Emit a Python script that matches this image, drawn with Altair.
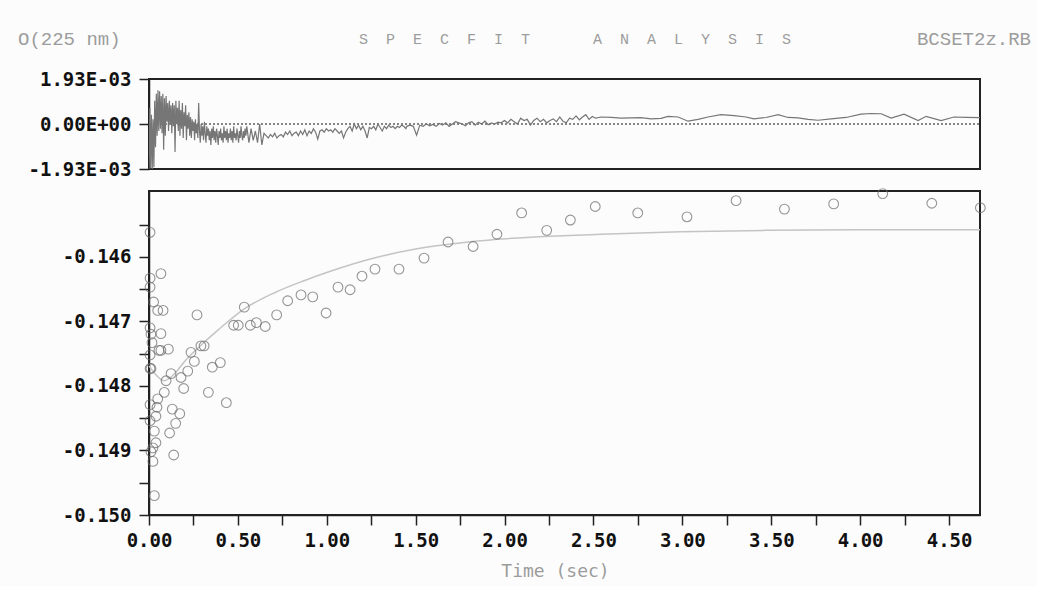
import altair as alt
import numpy as np
import pandas as pd

# Observed absorbance at 225 nm versus time (s)
obs_t = [0.006, 0.006, 0.006, 0.067, 0.026, 0.049, 0.079, 0.270, 0.006, 0.011,
         0.067, 0.017, 0.056, 0.067, 0.109, 0.006, 0.006, 0.011, 0.124, 0.096,
         0.180, 0.218, 0.236, 0.255, 0.292, 0.310, 0.195, 0.086, 0.049, 0.006,
         0.045, 0.039, 0.006, 0.131, 0.173, 0.150, 0.116, 0.030, 0.039, 0.022,
         0.011, 0.022, 0.139, 0.030, 0.334, 0.435, 0.356, 0.401, 0.536, 0.476,
         0.502, 0.570, 0.604, 0.654, 0.718, 0.780, 0.855, 0.921, 0.996, 1.063,
         1.131, 1.198, 1.271, 1.406, 1.547, 1.682, 1.823, 1.957, 2.096, 2.237,
         2.370, 2.510, 2.749, 3.026, 3.302, 3.574, 3.851, 4.127, 4.403, 4.676]
obs_v = [-0.14562, -0.14633, -0.14647, -0.14626, -0.14670, -0.14683, -0.14683, -0.14690, -0.14710, -0.14720,
         -0.14719, -0.14733, -0.14745, -0.14745, -0.14743, -0.14752, -0.14773, -0.14773, -0.14781, -0.14792,
         -0.14787, -0.14777, -0.14748, -0.14762, -0.14738, -0.14738, -0.14804, -0.14810, -0.14820, -0.14829,
         -0.14833, -0.14847, -0.14854, -0.14836, -0.14843, -0.14858, -0.14873, -0.14870, -0.14888, -0.14896,
         -0.14902, -0.14917, -0.14907, -0.14970, -0.14810, -0.14826, -0.14771, -0.14764, -0.14678, -0.14706,
         -0.14706, -0.14706, -0.14702, -0.14708, -0.14690, -0.14668, -0.14659, -0.14662, -0.14687, -0.14647,
         -0.14651, -0.14630, -0.14619, -0.14619, -0.14602, -0.14577, -0.14584, -0.14565, -0.14532, -0.14559,
         -0.14543, -0.14522, -0.14532, -0.14538, -0.14513, -0.14526, -0.14518, -0.14502, -0.14517, -0.14524]

# Fitted kinetic curve
fit_t = [0.0, 0.04, 0.084, 0.12, 0.16, 0.20, 0.25, 0.30, 0.386, 0.534, 0.703,
         0.872, 1.024, 1.25, 1.50, 1.87, 2.54, 2.99, 3.47, 4.0, 4.674]
fit_v = [-0.14769, -0.14783, -0.14792, -0.14787, -0.14776, -0.14762, -0.14748,
         -0.14735, -0.14714, -0.14681, -0.14656, -0.14637, -0.14622, -0.14603,
         -0.14588, -0.14575, -0.14565, -0.14561, -0.14559, -0.14558, -0.14558]

# Residuals (units of 1E-03), evenly sampled in three stretches plus a sparse tail
res_early = [-1.93, 0.7, -1.9, 0.4, -1.93,
             0.2, -1.85, 1.0, -1.0, 1.3,
             -0.5, 1.45, -0.3, 1.4, -0.2,
             1.2, -0.4, 1.3, -1.1, 1.1,
             -0.5, 1.2, 0.1, 0.9, -0.3,
             1.0, 0.0, 0.8, -0.4, 0.9,
             -0.1, 0.8, -1.2, 1.0, 0.0,
             0.7, -0.3, 1.0, -0.5, 0.6,
             -0.2, 0.9, -0.6, 0.5, -0.1,
             0.8, -0.7, 0.4, -0.2, 0.5,
             -0.5, 0.3, -0.6, 0.2, -0.3,
             0.1, -0.7, 0.2, -0.4, 0.0,
             -0.6, 0.9, -0.3, -0.8, 0.0,
             -0.5, -0.1, -0.7, 0.1, -0.4,
             -0.8, -0.1, -0.5, -0.2, -0.7,
             -0.3, -0.9, -0.2, -0.6, -0.1,
             -0.7, -0.3, -0.8, -0.2, -0.5,
             -0.9, -0.3, -0.6, -0.2, -0.7,
             -0.4, -0.8, -0.1, -0.6, -0.3,
             -0.7, -0.2, -0.8, -0.4, -0.6,
             -0.2, -0.7, -0.3, -0.8, -0.1,
             -0.6, -0.4, -0.7, -0.2, -0.5,
             -0.8, -0.3, -0.6, -0.1, -0.5,
             -0.7, -0.3, -0.6, -0.2, -0.5]
res_mid = [-0.1, -0.8, -0.2, -0.7, -0.3, -0.8, 0.0, -0.9, -0.4,
           -0.5, -0.6, -0.45, -0.55, -0.4, -0.6, -0.5, -0.45, -0.55, -0.35,
           -0.45, -0.3, -0.5, -0.4, -0.35, -0.5, -0.3, -0.45, -0.25, -0.5,
           -0.3, -0.4, -0.2, -0.35, -0.65, -0.3, -0.25, -0.35, -0.2, -0.3,
           -0.25, -0.35, -0.2, -0.3, -0.4, -0.3, -0.6, -0.35, -0.2, -0.1,
           -0.3, 0.0, -0.2, -0.05, -0.25, -0.1, -0.3, -0.6, -0.15, -0.2,
           -0.1, -0.25, 0.0, -0.15, -0.3, -0.1, -0.2, -0.05, -0.15, -0.1,
           -0.2, -0.1, -0.15, -0.05, -0.1, -0.2]
res_late = [-0.1, -0.05, -0.1, -0.48, -0.05, -0.1, 0.0, -0.08, -0.02, -0.1,
            0.02, -0.05, 0.05, -0.1, 0.0, 0.1, 0.05, 0.0, -0.08, 0.05,
            0.1, -0.05, 0.08, 0.0, 0.12, -0.03, 0.05, 0.0, 0.08, 0.05,
            0.15, 0.05, 0.2, 0.1, 0.0, 0.25, 0.15, 0.2, -0.05, 0.15,
            0.25, 0.1, 0.2, 0.05, 0.15, 0.22, 0.1, 0.3, 0.12, 0.05,
            0.25, 0.2, 0.35, 0.18, 0.3, 0.4, 0.2, 0.32, 0.25, 0.28]
res_tail_t = [2.542, 2.599, 2.655, 2.711, 2.767, 2.824, 2.880, 2.919, 2.976, 3.032,
              3.088, 3.144, 3.217, 3.291, 3.358, 3.403, 3.471, 3.538, 3.594, 3.651,
              3.707, 3.763, 3.836, 3.921, 4.005, 4.061, 4.118, 4.174, 4.247, 4.326,
              4.371, 4.455, 4.528, 4.596, 4.674]
res_tail = [0.30, 0.28, 0.25, 0.26, 0.27, 0.22, 0.24, 0.33, 0.30, 0.12,
            0.20, 0.30, 0.40, 0.36, 0.30, 0.22, 0.28, 0.40, 0.28, 0.26,
            0.20, 0.16, 0.22, 0.28, 0.42, 0.45, 0.44, 0.25, 0.42, 0.15,
            0.33, 0.15, 0.30, 0.28, 0.27]

T_END = 4.674

res_t = np.concatenate([
    np.linspace(0.0, 0.545, len(res_early)),
    np.linspace(0.55, 1.445, len(res_mid)),
    np.linspace(1.45, 2.53, len(res_late)),
    res_tail_t,
])
res_v = np.concatenate([res_early, res_mid, res_late, res_tail]) * 1e-3

obs_df = pd.DataFrame({"t": obs_t, "v": obs_v})
fit_df = pd.DataFrame({"t": fit_t, "v": fit_v})
res_df = pd.DataFrame({"t": res_t, "r": res_v})
zero_df = pd.DataFrame({"t": [0.0, T_END], "r": [0.0, 0.0]})

MONO = "DejaVu Sans Mono"
HEAD = "Liberation Mono"
GRAY = "#9c9c9c"
W = 831

x_scale = alt.Scale(domain=[0, T_END], nice=False, zero=False)

# ---- residual panel ----
res_ticks = [-0.00193, -0.000965, 0.0, 0.000965, 0.00193]
res_axis = alt.Axis(
    values=res_ticks,
    labelExpr="datum.value > 0.0015 ? '1.93E-03' : datum.value < -0.0015 ? '-1.93E-03' : abs(datum.value) < 0.000001 ? '0.00E+00' : ''",
    title=None, grid=False, tickSize=10, labelPadding=8,
    minExtent=143, maxExtent=143,
)
res_y = alt.Y("r:Q", scale=alt.Scale(domain=[-0.00193, 0.00193], nice=False), axis=res_axis)

resid_line = alt.Chart(res_df).mark_line(color="#767676", strokeWidth=1.2, clip=True).encode(
    x=alt.X("t:Q", scale=x_scale, axis=None), y=res_y
)
zero_line = alt.Chart(zero_df).mark_line(color="#111111", strokeDash=[2, 2], strokeWidth=1).encode(
    x=alt.X("t:Q", scale=x_scale, axis=None), y=alt.Y("r:Q")
)


def header(text, x, align, size=19):
    return alt.Chart(pd.DataFrame({"label": [text]})).mark_text(
        align=align, baseline="middle", font=HEAD, fontSize=size, color=GRAY
    ).encode(x=alt.value(x), y=alt.value(-40), text="label:N")


nb = "\u00a0"
spaced = (nb * 2).join("SPECFIT") + nb * 7 + (nb * 2).join("ANALYSIS")
top = alt.layer(
    zero_line,
    resid_line,
    header("O(225 nm)", -131, "left"),
    header(spaced, 210, "left", 15),
    header("BCSET2z.RB", 882, "right"),
).properties(width=W, height=90)

# ---- data + fit panel ----
x_axis = alt.Axis(
    values=[i * 0.25 for i in range(19)],
    labelExpr="round(datum.value * 4) % 2 == 0 ? format(datum.value, '.2f') : ''",
    labelFlush=False,
    title="Time (sec)", titleColor=GRAY, titleFont=MONO, titleFontWeight="normal",
    titleFontSize=18, titlePadding=12, titleX=406, titleAlign="center",
    grid=False, tickSize=10, labelPadding=6,
)
y_axis = alt.Axis(
    values=[-0.150 + i * 0.0005 for i in range(10)],
    labelExpr="round(datum.value * 2000) % 2 == 0 ? '-' + format(-datum.value, '.3f') : ''",
    labelFlush=False,
    title=None, grid=False, tickSize=10, labelPadding=8,
    minExtent=143, maxExtent=143,
)
y_scale = alt.Scale(domain=[-0.150, -0.14498], nice=False, zero=False)

fit_line = alt.Chart(fit_df).mark_line(color="#c4c4c4", strokeWidth=1.5, interpolate="monotone").encode(
    x=alt.X("t:Q", scale=x_scale, axis=x_axis),
    y=alt.Y("v:Q", scale=y_scale, axis=y_axis),
)
points = alt.Chart(obs_df).mark_point(shape="circle", filled=False, size=95, color="#6a6a6a", strokeWidth=1.1).encode(
    x=alt.X("t:Q", scale=x_scale, axis=x_axis),
    y=alt.Y("v:Q", scale=y_scale, axis=y_axis),
)
main = alt.layer(fit_line, points).properties(width=W, height=324)

chart = alt.vconcat(top, main, spacing=22, bounds="flush").properties(
    background="#fcfcfc",
    padding={"left": 5, "top": 29, "right": 5, "bottom": 5},
).configure_view(
    stroke="#222222", strokeWidth=2, fill=None
).configure_axis(
    labelFont=MONO, labelFontWeight="bold", labelFontSize=19, labelColor="#111111",
    tickColor="#222222", tickWidth=1.5, domainColor="#222222", domainWidth=1.5,
)

chart.save("out.html", embed_options={"renderer": "svg", "actions": False})
